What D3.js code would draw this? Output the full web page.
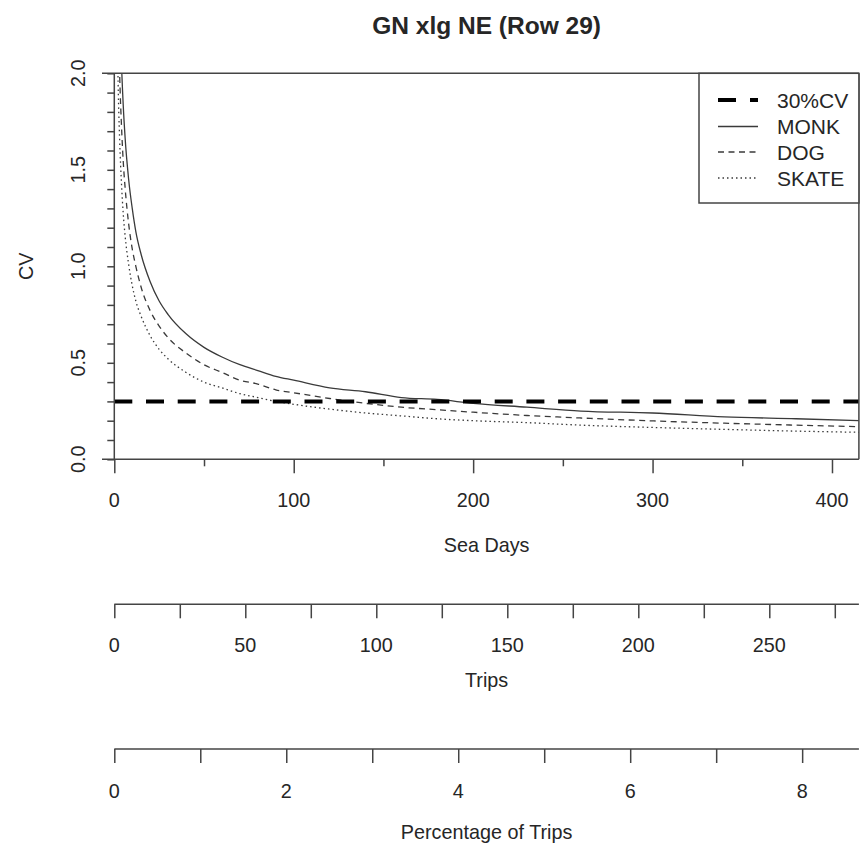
<!DOCTYPE html>
<html>
<head>
<meta charset="utf-8">
<script src="https://cdn.jsdelivr.net/npm/d3@7"></script>
<style>
  html, body { margin: 0; padding: 0; background: #ffffff; }
  svg { display: block; }
  text { font-family: "Liberation Sans", Arial, sans-serif; fill: #262626; }
</style>
</head>
<body>
<div id="chart"></div>
<script>
// ---------- data ----------
const seaDays = [1, 2, 3, 4, 5, 6, 8, 10, 12, 15, 20, 25, 30, 40, 50, 60, 70, 80, 90, 100, 120, 140, 160, 180, 200, 230, 260, 300, 340, 380, 415];
const monkCV  = [4.10, 2.90, 2.37, 2.05, 1.83, 1.67, 1.45, 1.30, 1.18, 1.06, 0.92, 0.82, 0.75, 0.65, 0.58, 0.53, 0.49, 0.46, 0.43, 0.41, 0.37, 0.35, 0.32, 0.31, 0.29, 0.27, 0.25, 0.24, 0.22, 0.21, 0.20];
const dogCV   = [3.45, 2.44, 1.99, 1.73, 1.54, 1.41, 1.22, 1.09, 1.00, 0.89, 0.77, 0.69, 0.63, 0.55, 0.49, 0.45, 0.41, 0.39, 0.36, 0.345, 0.315, 0.29, 0.27, 0.257, 0.244, 0.227, 0.214, 0.199, 0.187, 0.177, 0.169];
const skateCV = [2.85, 2.02, 1.65, 1.43, 1.27, 1.16, 1.01, 0.90, 0.82, 0.74, 0.64, 0.57, 0.52, 0.45, 0.40, 0.37, 0.34, 0.32, 0.30, 0.285, 0.26, 0.24, 0.225, 0.21, 0.20, 0.19, 0.177, 0.165, 0.155, 0.146, 0.14];
const targetCV = 0.3;

const seriesNames = ["30%CV", "MONK", "DOG", "SKATE"];

const seaDayTicks = [0, 100, 200, 300, 400];
const seaDayMinor = [50, 150, 250, 350];
const cvTicks = [0, 0.5, 1.0, 1.5, 2.0];
const cvMinor = [0.1, 0.2, 0.3, 0.4, 0.6, 0.7, 0.8, 0.9, 1.1, 1.2, 1.3, 1.4, 1.6, 1.7, 1.8, 1.9];
const tripTicks = [0, 50, 100, 150, 200, 250];
const tripMinor = [25, 75, 125, 175, 225, 275];
const pctTicks = [0, 2, 4, 6, 8];
const pctMinor = [1, 3, 5, 7];

const titleText = "GN xlg NE (Row 29)";

// ---------- layout ----------
const W = 861, H = 846;
const L = 114.3, R = 858.9, T = 73.3, B = 459.3;

const svg = d3.select("#chart").append("svg").attr("width", W).attr("height", H);

const x = d3.scaleLinear().domain([0, 415]).range([L, R]);
const y = d3.scaleLinear().domain([0, 2]).range([B, T]);
const xTrips = d3.scaleLinear().domain([0, 284.2]).range([L, R]);
const xPct = d3.scaleLinear().domain([0, 8.66]).range([L, R]);

const axisColor = "#444";

svg.append("defs").append("clipPath").attr("id", "plotclip")
  .append("rect").attr("x", L).attr("y", T).attr("width", R - L).attr("height", B - T);

// title
svg.append("text").attr("x", (L + R) / 2).attr("y", 33.5)
  .attr("text-anchor", "middle").style("font-weight", "bold").style("font-size", "24.5px")
  .text(titleText);

// curves
const plot = svg.append("g").attr("clip-path", "url(#plotclip)");
const line = d3.line().x(d => x(d[0])).y(d => y(d[1])).curve(d3.curveMonotoneX);

function series(vals) { return seaDays.map((d, i) => [d, vals[i]]); }

plot.append("path").datum(series(skateCV)).attr("d", line)
  .attr("fill", "none").attr("stroke", "#3a3a3a").attr("stroke-width", 1.3)
  .attr("stroke-dasharray", "1.5,3");
plot.append("path").datum(series(dogCV)).attr("d", line)
  .attr("fill", "none").attr("stroke", "#3a3a3a").attr("stroke-width", 1.3)
  .attr("stroke-dasharray", "6,4.5");
plot.append("path").datum(series(monkCV)).attr("d", line)
  .attr("fill", "none").attr("stroke", "#3a3a3a").attr("stroke-width", 1.3);

// 30% CV reference line
plot.append("line").attr("x1", x(0)).attr("x2", R).attr("y1", y(targetCV)).attr("y2", y(targetCV))
  .attr("stroke", "#000").attr("stroke-width", 4).attr("stroke-dasharray", "18,13.7");

// frame: top, bottom, right, y axis line
const frame = svg.append("g").attr("stroke", axisColor).attr("stroke-width", 1.5);
frame.append("line").attr("x1", 102).attr("x2", R).attr("y1", T).attr("y2", T);
frame.append("line").attr("x1", 102).attr("x2", R).attr("y1", B).attr("y2", B);
frame.append("line").attr("x1", R).attr("x2", R).attr("y1", T).attr("y2", B);
frame.append("line").attr("x1", L).attr("x2", L).attr("y1", T).attr("y2", B);

function styleAxis(g) {
  g.select(".domain").remove();
  g.selectAll(".tick line").attr("stroke", axisColor).attr("stroke-width", 1.5);
  g.selectAll(".tick text").remove();
}

// Sea Days axis
svg.append("g").attr("transform", `translate(0,${B})`)
  .call(d3.axisBottom(x).tickValues(seaDayTicks).tickSize(14).tickFormat(""))
  .call(styleAxis);
svg.append("g").attr("transform", `translate(0,${B})`)
  .call(d3.axisBottom(x).tickValues(seaDayMinor).tickSize(7).tickFormat(""))
  .call(styleAxis);
svg.append("g").selectAll("text").data(seaDayTicks).join("text")
  .attr("x", d => x(d)).attr("y", 507).attr("text-anchor", "middle")
  .style("font-size", "19.8px").text(d => d);
svg.append("text").attr("x", (L + R) / 2).attr("y", 552).attr("text-anchor", "middle")
  .style("font-size", "19.8px").text("Sea Days");

// CV axis
svg.append("g").attr("transform", `translate(${L},0)`)
  .call(d3.axisLeft(y).tickValues(cvTicks.concat(cvMinor)).tickSize(7).tickFormat(""))
  .call(styleAxis);
svg.append("g").selectAll("text").data(cvTicks).join("text")
  .attr("transform", d => `translate(85,${y(d)}) rotate(-90)`)
  .attr("text-anchor", "middle").style("font-size", "19.8px")
  .text(d => d3.format(".1f")(d));
svg.append("text").attr("transform", `translate(33.3,${(T + B) / 2}) rotate(-90)`)
  .attr("text-anchor", "middle").style("font-size", "19.8px").text("CV");

// Trips axis
const tripY = 604.3;
svg.append("line").attr("x1", xTrips(0)).attr("x2", R).attr("y1", tripY).attr("y2", tripY)
  .attr("stroke", axisColor).attr("stroke-width", 1.5);
svg.append("g").attr("transform", `translate(0,${tripY})`)
  .call(d3.axisBottom(xTrips).tickValues(tripTicks.concat(tripMinor)).tickSize(14).tickFormat(""))
  .call(styleAxis);
svg.append("g").selectAll("text").data(tripTicks).join("text")
  .attr("x", d => xTrips(d)).attr("y", 651.5).attr("text-anchor", "middle")
  .style("font-size", "19.8px").text(d => d);
svg.append("text").attr("x", (L + R) / 2).attr("y", 686.5).attr("text-anchor", "middle")
  .style("font-size", "19.8px").text("Trips");

// Percentage axis
const pctY = 749;
svg.append("line").attr("x1", xPct(0)).attr("x2", R).attr("y1", pctY).attr("y2", pctY)
  .attr("stroke", axisColor).attr("stroke-width", 1.5);
svg.append("g").attr("transform", `translate(0,${pctY})`)
  .call(d3.axisBottom(xPct).tickValues(pctTicks.concat(pctMinor)).tickSize(14).tickFormat(""))
  .call(styleAxis);
svg.append("g").selectAll("text").data(pctTicks).join("text")
  .attr("x", d => xPct(d)).attr("y", 798).attr("text-anchor", "middle")
  .style("font-size", "19.8px").text(d => d);
svg.append("text").attr("x", (L + R) / 2).attr("y", 838.5).attr("text-anchor", "middle")
  .style("font-size", "19.8px").text("Percentage of Trips");

// Legend
const legL = 699, legB = 203;
svg.append("rect").attr("x", legL).attr("y", T).attr("width", R - legL).attr("height", legB - T)
  .attr("fill", "#fff").attr("stroke", axisColor).attr("stroke-width", 1.5);
const legStyles = [
  { w: 4, dash: "18,14", c: "#000" },
  { w: 1.3, dash: null, c: "#3a3a3a" },
  { w: 1.3, dash: "6,4.5", c: "#3a3a3a" },
  { w: 1.3, dash: "1.5,3", c: "#3a3a3a" }
];
const legRowY = [100, 126.5, 152, 178];
const leg = svg.append("g");
seriesNames.forEach((name, i) => {
  const s = legStyles[i];
  const l = leg.append("line").attr("x1", 718).attr("x2", 758)
    .attr("y1", legRowY[i]).attr("y2", legRowY[i])
    .attr("stroke", s.c).attr("stroke-width", s.w);
  if (s.dash) l.attr("stroke-dasharray", s.dash);
  leg.append("text").attr("x", 777).attr("y", legRowY[i] + 7.8)
    .style("font-size", "21px").text(name);
});
</script>
</body>
</html>
